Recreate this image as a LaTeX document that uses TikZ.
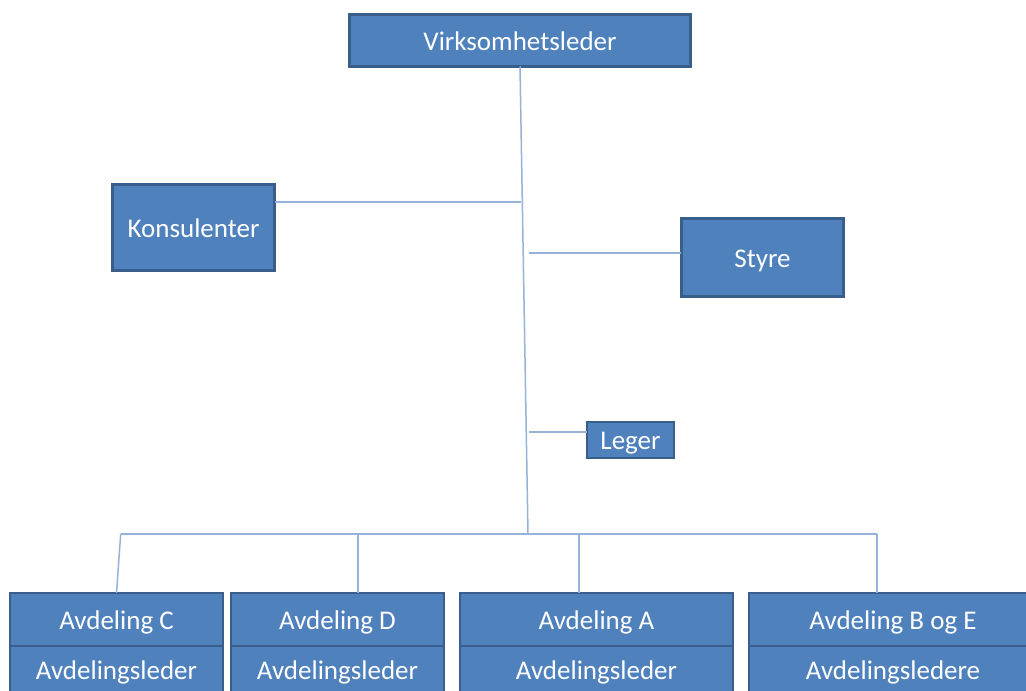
\documentclass[tikz,border=0pt]{standalone}
\usepackage{fontspec}
\setmainfont{Carlito}
\definecolor{boxfill}{HTML}{4F81BD}
\definecolor{boxline}{HTML}{3A5E8C}
\definecolor{linkcol}{HTML}{95B3D7}
\begin{document}
\begin{tikzpicture}[x=1pt,y=-1pt,
  box/.style={draw=boxline, fill=boxfill, line width=2.5pt, text=white,
    font=\fontsize{27}{30}\selectfont, inner sep=0pt, outer sep=0pt,
    rectangle, text height=19pt, text depth=0pt},
  link/.style={draw=linkcol, line width=1.5pt}]
\clip (0,0) rectangle (1026,691);
\fill[white] (0,0) rectangle (1026,691);
% boxes
\node[box, minimum width=341pt, minimum height=52pt] (vl) at (520,40.5) {Virksomhetsleder};
\node[box, minimum width=162pt, minimum height=86pt] (kons) at (193.5,227.5) {Konsulenter};
\node[box, minimum width=162pt, minimum height=78pt] (styre) at (762.5,257.5) {Styre};
\node[box, minimum width=87pt, minimum height=36pt] (leger) at (630.5,440) {Leger};
\node[box, minimum width=213pt, minimum height=53pt] (c1) at (116.5,619.5) {Avdeling C};
\node[box, minimum width=213pt, minimum height=47pt] (c2) at (116.5,669.5) {Avdelingsleder};
\node[box, minimum width=213pt, minimum height=53pt] (d1) at (337.5,619.5) {Avdeling D};
\node[box, minimum width=213pt, minimum height=47pt] (d2) at (337.5,669.5) {Avdelingsleder};
\node[box, minimum width=273pt, minimum height=53pt] (a1) at (596.5,619.5) {Avdeling A};
\node[box, minimum width=273pt, minimum height=47pt] (a2) at (596.5,669.5) {Avdelingsleder};
\node[box, minimum width=288pt, minimum height=53pt] (be1) at (893,619.5) {Avdeling B og E};
\node[box, minimum width=288pt, minimum height=47pt] (be2) at (893,669.5) {Avdelingsledere};
% connector points
\coordinate (trunkEnd) at (528,534);
\coordinate (kJoin) at (521,202);
\coordinate (kEnd) at (275,202);
\coordinate (sStart) at (529,253);
\coordinate (sEnd) at (681,253);
\coordinate (lStart) at (529,432);
\coordinate (lEnd) at (587,432);
\coordinate (busL) at (120.7,534);
\coordinate (busR) at (877,534);
\coordinate (dTop) at (358,534);
\coordinate (aTop) at (579,534);
% connectors
\draw[link] (vl.south) -- (trunkEnd);
\draw[link] (kEnd) -- (kJoin);
\draw[link] (sStart) -- (sEnd);
\draw[link] (lStart) -- (lEnd);
\draw[link] (busL) -- (busR);
\draw[link] (busL) -- (c1.north);
\draw[link] (dTop) -- (d1.north -| dTop);
\draw[link] (aTop) -- (a1.north -| aTop);
\draw[link] (busR) -- (be1.north -| busR);
\end{tikzpicture}
\end{document}
